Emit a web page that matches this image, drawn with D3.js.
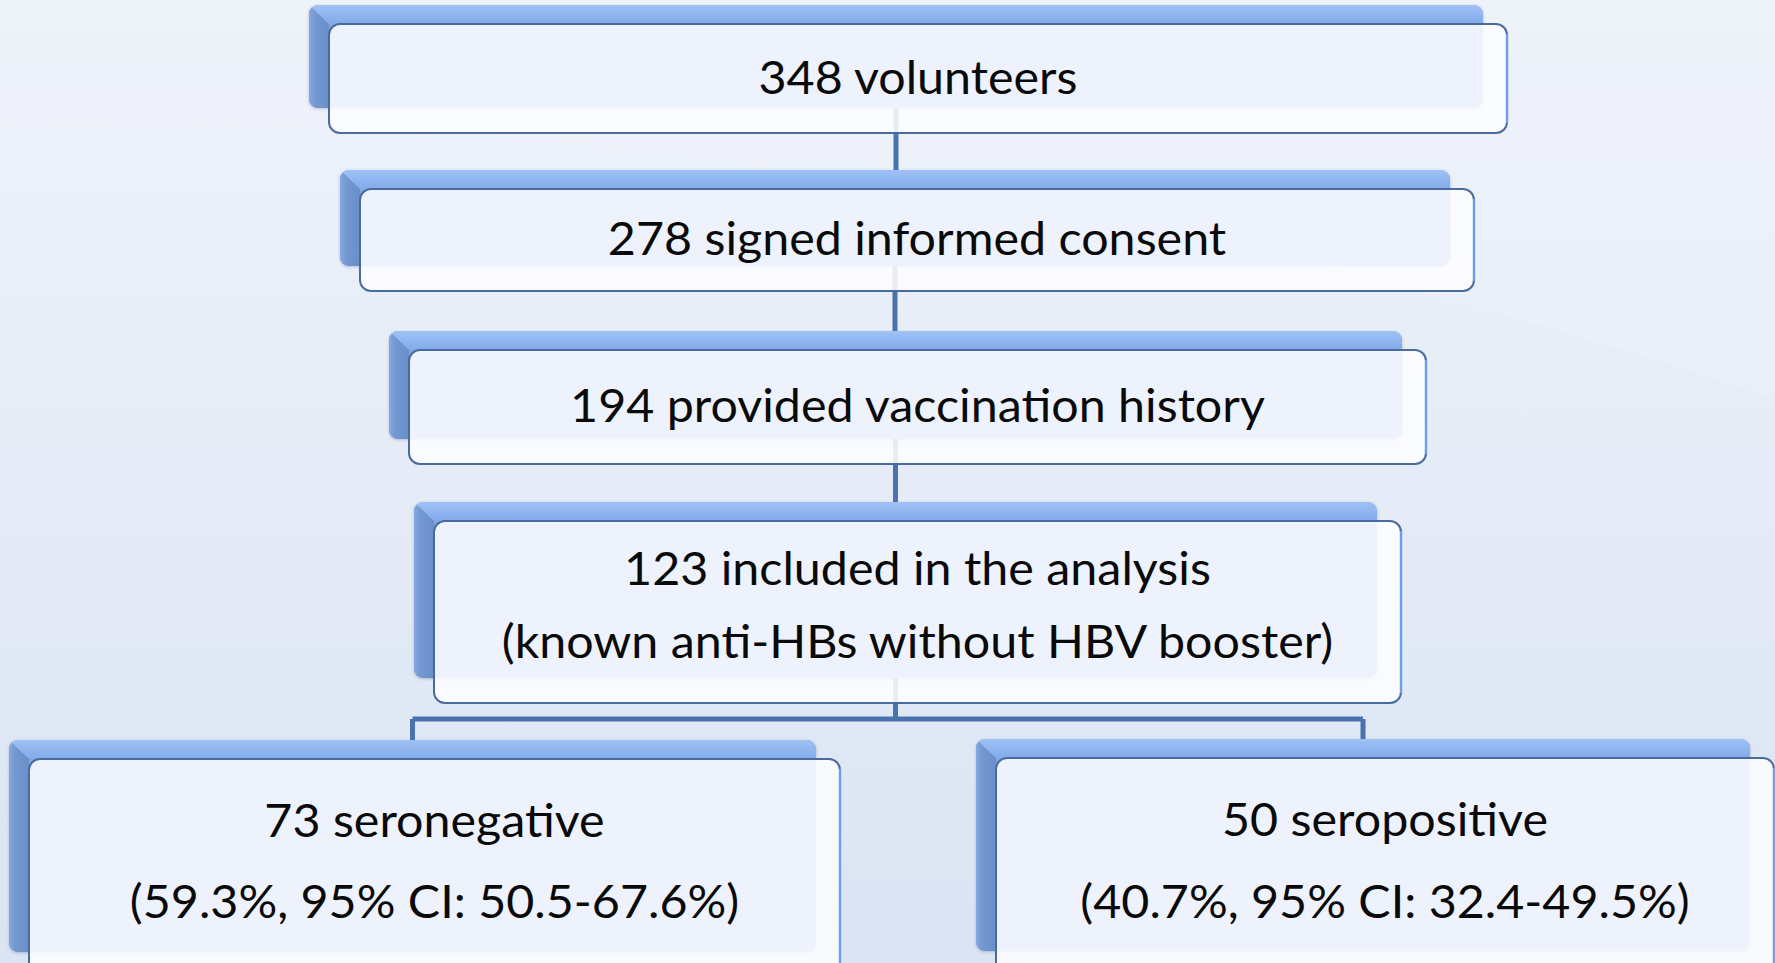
<!DOCTYPE html>
<html>
<head>
<meta charset="utf-8">
<script src="https://cdn.jsdelivr.net/npm/d3@7"></script>
<style>
  html, body { margin: 0; padding: 0; overflow: hidden; background: #e6ecf6; }
  svg { display: block; }
</style>
</head>
<body>
<div id="flow"></div>
<script>
// text of each box (two-line boxes have two strings)
var nodeLines = [
  ["348 volunteers"],
  ["278 signed informed consent"],
  ["194 provided vaccination history"],
  ["123 included in the analysis", "(known anti-HBs without HBV booster)"],
  ["73 seronegative", "(59.3%, 95% CI: 50.5-67.6%)"],
  ["50 seropositive", "(40.7%, 95% CI: 32.4-49.5%)"]
];
// which box each box hangs from
var nodeParent = [null, 0, 1, 2, 3, 3];

// front box layout in picture units: x, y, w, h, line gap
var boxLayout = [
  [329, 24, 1178, 109, 0],
  [360, 189, 1114, 102, 0],
  [409, 350, 1017, 114, 0],
  [434, 521, 967, 182, 73],
  [29, 759, 811, 218, 81],
  [996, 758, 778, 218, 82]
];

drawFlow();

function drawFlow() {
  var W = 1775, H = 963;
  var x = d3.scaleLinear().domain([0, 1775]).range([0, W]);
  var y = d3.scaleLinear().domain([0, 963]).range([0, H]);

  var svg = d3.select("#flow").append("svg")
      .attr("width", W).attr("height", H);
  var defs = svg.append("defs");

  // gradients + shadow
  var bg = defs.append("linearGradient").attr("id", "bg")
      .attr("x1", 0).attr("y1", 0).attr("x2", 0).attr("y2", 1);
  bg.append("stop").attr("offset", 0).attr("stop-color", "#eef2fa");
  bg.append("stop").attr("offset", 0.35).attr("stop-color", "#e8eef8");
  bg.append("stop").attr("offset", 1).attr("stop-color", "#dbe4f3");

  var topBand = defs.append("linearGradient").attr("id", "topBand")
      .attr("x1", 0).attr("y1", 0).attr("x2", 0).attr("y2", 1);
  topBand.append("stop").attr("offset", 0).attr("stop-color", "#9fc1f5");
  topBand.append("stop").attr("offset", 1).attr("stop-color", "#82aaeb");

  var sideBand = defs.append("linearGradient").attr("id", "sideBand")
      .attr("x1", 0).attr("y1", 0).attr("x2", 1).attr("y2", 0);
  sideBand.append("stop").attr("offset", 0).attr("stop-color", "#86a9e2");
  sideBand.append("stop").attr("offset", 0.3).attr("stop-color", "#7398d2");
  sideBand.append("stop").attr("offset", 1).attr("stop-color", "#6a8ec8");

  var shadow = defs.append("filter").attr("id", "shadow")
      .attr("x", "-5%").attr("y", "-20%").attr("width", "110%").attr("height", "140%");
  shadow.append("feDropShadow")
      .attr("dx", 0).attr("dy", 1).attr("stdDeviation", 1.6)
      .attr("flood-color", "#56607a").attr("flood-opacity", 0.35);

  // background
  svg.append("rect").attr("width", W).attr("height", H).attr("fill", "url(#bg)");
  svg.append("path")
      .attr("d", "M" + x(0) + "," + y(0) + "L" + x(1775) + "," + y(0) + "L" + x(1775) + "," + y(400) +
                 "Q" + x(900) + "," + y(100) + " " + x(0) + "," + y(125) + "Z")
      .attr("fill", "#f0f3fa").attr("opacity", 0.3);

  var nodes = nodeLines.map(function(lines, i) {
    var b = boxLayout[i];
    return {
      i: i, lines: lines, parent: nodeParent[i],
      fx: b[0], fy: b[1], fw: b[2], fh: b[3], gap: b[4],
      bx: b[0] - 20, by: b[1] - 19, bw: b[2] - 4, bh: b[3] - 6
    };
  });
  nodes.forEach(function(n) { n.cx = n.bx + n.bw / 2; });

  // back (bevelled blue) boxes
  var back = svg.append("g").attr("class", "back");
  nodes.forEach(function(n) {
    defs.append("clipPath").attr("id", "clip" + n.i)
      .append("rect")
        .attr("x", x(n.bx)).attr("y", y(n.by))
        .attr("width", x(n.bw) - x(0)).attr("height", y(n.bh) - y(0))
        .attr("rx", 9);

    var g = back.append("g").attr("filter", "url(#shadow)");
    g.append("rect")
        .attr("x", x(n.bx)).attr("y", y(n.by))
        .attr("width", x(n.bw) - x(0)).attr("height", y(n.bh) - y(0))
        .attr("rx", 9)
        .attr("fill", "#7fa6e6");
    var inner = g.append("g").attr("clip-path", "url(#clip" + n.i + ")");
    inner.append("rect")
        .attr("x", x(n.bx)).attr("y", y(n.by))
        .attr("width", x(n.bw) - x(0)).attr("height", y(n.fy) - y(n.by))
        .attr("fill", "url(#topBand)");
    inner.append("polygon")
        .attr("points", [
          [x(n.bx), y(n.by)], [x(n.fx), y(n.fy)],
          [x(n.fx), y(n.by + n.bh)], [x(n.bx), y(n.by + n.bh)]
        ].join(" "))
        .attr("fill", "url(#sideBand)");
  });

  // connectors
  var conn = svg.append("g").attr("class", "connectors")
      .attr("fill", "none").attr("stroke", "#4a72ac").attr("stroke-width", 5);
  var line = d3.line().x(function(d) { return x(d[0]); }).y(function(d) { return y(d[1]); });
  nodes.forEach(function(p) {
    var kids = nodes.filter(function(n) { return n.parent === p.i; });
    if (!kids.length) return;
    var pb = p.by + p.bh;
    if (kids.length === 1) {
      conn.append("path").attr("d", line([[p.cx, pb], [p.cx, kids[0].by]]));
    } else {
      var branchY = d3.min(kids, function(k) { return k.by; }) - 20;
      var xs = d3.extent(kids, function(k) { return k.cx; });
      conn.append("path").attr("d", line([[p.cx, pb], [p.cx, branchY]]));
      conn.append("path").attr("d", line([[xs[0], branchY], [xs[1], branchY]]));
      kids.forEach(function(k) {
        conn.append("path").attr("d", line([[k.cx, branchY], [k.cx, k.by]]));
      });
    }
  });

  // front (white) boxes
  var front = svg.append("g").attr("class", "front");
  nodes.forEach(function(n) {
    front.append("rect")
        .attr("x", x(n.fx)).attr("y", y(n.fy))
        .attr("width", x(n.fw) - x(0)).attr("height", y(n.fh) - y(0))
        .attr("rx", 11)
        .attr("fill", "#fdfdff").attr("fill-opacity", 0.88)
        .attr("stroke", "#4b6b9f").attr("stroke-width", 2);
    front.append("line")
        .attr("x1", x(n.fx + n.fw)).attr("x2", x(n.fx + n.fw))
        .attr("y1", y(n.fy + 10)).attr("y2", y(n.fy + n.fh - 10))
        .attr("stroke", "#6a9fee").attr("stroke-width", 2.4);
  });

  // labels
  var labels = svg.append("g").attr("class", "labels")
      .attr("font-family", "Lato, 'Open Sans', sans-serif")
      .attr("font-size", 47)
      .attr("fill", "#0a0a0a")
      .attr("text-anchor", "middle");
  var texts = [];
  nodes.forEach(function(n) {
    var mid = n.fy + n.fh / 2;
    var first = n.lines.length === 1 ? mid + 15 : mid + 9.5 - n.gap / 2;
    n.lines.forEach(function(s, j) {
      var t = labels.append("text")
          .attr("x", x(n.fx + n.fw / 2))
          .attr("y", y(first + j * n.gap))
          .text(s);
      texts.push(t);
    });
  });

  // squeeze Lato to the narrower width of the original face
  var k = 319 / texts[0].node().getComputedTextLength();
  texts.forEach(function(t) {
    var len = t.node().getComputedTextLength();
    t.attr("textLength", len * k).attr("lengthAdjust", "spacingAndGlyphs");
  });
}
</script>
</body>
</html>
